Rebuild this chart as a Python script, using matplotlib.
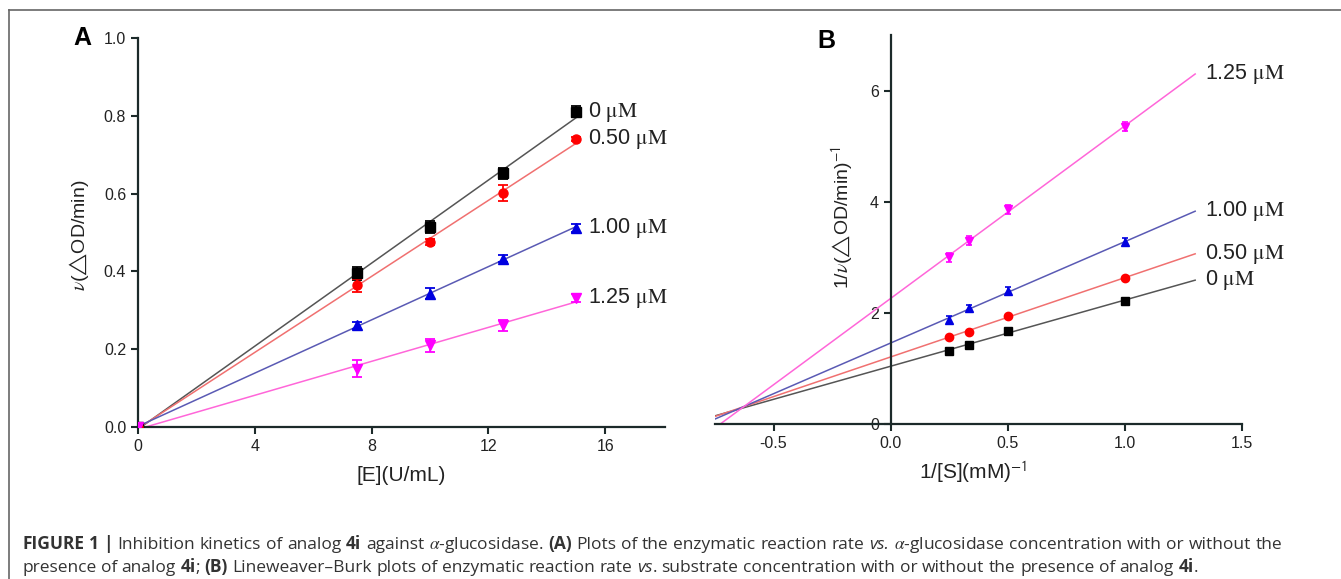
import re
import matplotlib
matplotlib.use("Agg")
import matplotlib.pyplot as plt
from matplotlib.lines import Line2D
import numpy as np

plt.rcParams['font.family'] = ['Liberation Sans', 'DejaVu Sans']
plt.rcParams['mathtext.fontset'] = 'stix'

# panel A: rate vs enzyme concentration
enzyme = [0, 7.5, 10, 12.5, 15]
rate_0 = [0, 0.395, 0.515, 0.652, 0.811]
rate_050 = [0, 0.364, 0.475, 0.601, 0.740]
rate_100 = [0, 0.261, 0.343, 0.433, 0.511]
rate_125 = [0, 0.150, 0.210, 0.261, 0.332]
err_0 = [0, 0.016, 0.015, 0.015, 0.015]
err_050 = [0, 0.016, 0.008, 0.020, 0.006]
err_100 = [0, 0.008, 0.015, 0.010, 0.010]
err_125 = [0, 0.022, 0.016, 0.015, 0.010]

# panel B: Lineweaver-Burk
inv_s = [0.25, 0.333, 0.5, 1.0]
inv_v_0 = [1.32, 1.43, 1.67, 2.22]
inv_v_050 = [1.57, 1.66, 1.94, 2.63]
inv_v_100 = [1.88, 2.08, 2.40, 3.27]
inv_v_125 = [3.00, 3.30, 3.86, 5.35]
inv_err_0 = [0.03, 0.03, 0.03, 0.03]
inv_err_050 = [0.03, 0.03, 0.03, 0.03]
inv_err_100 = [0.07, 0.07, 0.07, 0.07]
inv_err_125 = [0.08, 0.08, 0.08, 0.08]

labels = ['0', '0.50', '1.00', '1.25']
marker_colors = ['#000000', '#ff0000', '#0000e0', '#ff00ff']
line_colors = ['#555555', '#f07070', '#5a5ab4', '#ff66d9']
markers = ['s', 'o', '^', 'v']

fig = plt.figure(figsize=(13.41, 5.79), dpi=100)
axA = fig.add_axes([138/1341, 1-427/579, 527/1341, 389/579])
axB = fig.add_axes([715/1341, 1-424/579, 527/1341, 389/579])

txt_col = '#222222'
spine_col = '#1c2a2a'
for ax in (axA, axB):
    for s in ('top', 'right'):
        ax.spines[s].set_visible(False)
    for s in ('left', 'bottom'):
        ax.spines[s].set_linewidth(1.6)
        ax.spines[s].set_color(spine_col)
    ax.tick_params(direction='out', length=5, width=1.5, color=spine_col,
                   labelsize=11.5, labelcolor=txt_col)

tri = '$\\mathrm{\u25b3}$'

# ---- A
rates = [rate_0, rate_050, rate_100, rate_125]
errs = [err_0, err_050, err_100, err_125]
xfit = np.linspace(0, 15, 50)
for r, e, lab, mc, lc, m in zip(rates, errs, labels, marker_colors, line_colors, markers):
    k, b = np.polyfit(enzyme, r, 1)
    axA.plot(xfit, k*xfit + b, color=lc, lw=1.1, zorder=2)
    axA.errorbar(enzyme, r, yerr=e, fmt=m, color=mc, ms=6.5, capsize=3.5,
                 elinewidth=1.3, capthick=1.3, zorder=3)
    axA.text(15.42, r[-1], lab + r' $\mathrm{\mu M}$', fontsize=15.5,
             va='center', ha='left', color=txt_col)

axA.set_xlim(0, 18.05)
axA.set_ylim(0, 1.0)
axA.set_xticks([0, 4, 8, 12, 16])
axA.set_yticks([0, 0.2, 0.4, 0.6, 0.8, 1.0])
axA.set_yticklabels(['0.0', '0.2', '0.4', '0.6', '0.8', '1.0'])
axA.set_xlabel('[E](U/mL)', fontsize=15, color=txt_col)
axA.xaxis.set_label_coords(0.5, -0.1)
axA.set_ylabel(r'$\nu$(' + tri + 'OD/min)', fontsize=14, color=txt_col)
axA.yaxis.set_label_coords(-0.09, 0.494)

# ---- B
inv_vs = [inv_v_0, inv_v_050, inv_v_100, inv_v_125]
inv_errs = [inv_err_0, inv_err_050, inv_err_100, inv_err_125]
xfitB = np.linspace(-0.75, 1.3, 50)
for r, e, lab, mc, lc, m in zip(inv_vs, inv_errs, labels, marker_colors, line_colors, markers):
    k, b = np.polyfit(inv_s, r, 1)
    axB.plot(xfitB, k*xfitB + b, color=lc, lw=1.1, zorder=2)
    axB.errorbar(inv_s, r, yerr=e, fmt=m, color=mc, ms=6, capsize=2.5,
                 elinewidth=1.2, capthick=1.2, zorder=3)
    axB.text(1.34, k*1.3 + b, lab + r' $\mathrm{\mu M}$', fontsize=15.5,
             va='center', ha='left', color=txt_col)

axB.set_xlim(-0.75, 1.5)
axB.set_ylim(0, 7)
axB.spines['left'].set_position(('data', 0))
axB.set_xticks([-0.5, 0.0, 0.5, 1.0, 1.5])
axB.set_xticklabels(['-0.5', '0.0', '0.5', '1.0', '1.5'])
axB.set_yticks([0, 2, 4, 6])
axB.set_xlabel(r'1/[S](mM)$^{\mathsf{-1}}$', fontsize=15, color=txt_col)
axB.xaxis.set_label_coords(0.49, -0.09)
axB.set_ylabel(r'1/$\nu$(' + tri + r'OD/min)$^{\mathsf{-1}}$', fontsize=14, color=txt_col)
axB.yaxis.set_label_coords(0.268, 0.53)

fig.text(82/1341, 1-38/579, 'A', fontsize=18, fontweight='bold', ha='center', va='center')
fig.text(826/1341, 1-41/579, 'B', fontsize=18, fontweight='bold', ha='center', va='center')

# frame lines
fig.add_artist(Line2D([9/1341, 1.0], [1-10/579, 1-10/579], color='#666666', lw=1.2))
fig.add_artist(Line2D([9/1341, 9/1341], [0, 1-10/579], color='#666666', lw=1.2))

# caption, placed word by word so line 1 can be justified
renderer = fig.canvas.get_renderer()
cap_font = ['Open Sans', 'DejaVu Sans']


def caption_line(x0, y, parts, size, right=None):
    items = []
    for s, w, st in parts:
        for chunk in re.split(r'( )', s):
            if chunk:
                items.append((chunk, w, st))
    placed = []
    for s, w, st in items:
        if s == ' ':
            placed.append(None)
            continue
        t = fig.text(0, y, s, fontsize=size, fontweight=w, style=st, family=cap_font,
                     va='baseline', ha='left', color='#333333')
        placed.append(t)
    probe = fig.text(0, 0, 'a a', fontsize=size, family=cap_font)
    probe2 = fig.text(0, 0, 'aa', fontsize=size, family=cap_font)
    sp = probe.get_window_extent(renderer).width - probe2.get_window_extent(renderer).width
    probe.remove()
    probe2.remove()
    widths = [sp if t is None else t.get_window_extent(renderer).width for t in placed]
    W = fig.bbox.width
    extra = 0
    if right is not None:
        nsp = placed.count(None)
        extra = max(0, (right * W - x0 * W - sum(widths)) / nsp)
    x = x0 * W
    for t, wd in zip(placed, widths):
        if t is None:
            x += wd + extra
        else:
            t.set_x(x / W)
            x += wd


line1 = [('FIGURE 1', 'bold', 'normal'), (' | ', 'bold', 'normal'),
         ('Inhibition kinetics of analog ', 'normal', 'normal'), ('4i', 'bold', 'normal'),
         (' against ', 'normal', 'normal'), (r'$\alpha$-glucosidase.', 'normal', 'normal'),
         (' ', 'normal', 'normal'), ('(A)', 'bold', 'normal'),
         (' Plots of the enzymatic reaction rate ', 'normal', 'normal'),
         ('vs.', 'normal', 'italic'), (' ', 'normal', 'normal'),
         (r'$\alpha$-glucosidase', 'normal', 'normal'),
         (' concentration with or without the', 'normal', 'normal')]
line2 = [('presence of analog ', 'normal', 'normal'), ('4i', 'bold', 'normal'),
         (';', 'normal', 'normal'), (' ', 'normal', 'normal'), ('(B)', 'bold', 'normal'),
         (' Lineweaver\u2013Burk plots of enzymatic reaction rate ', 'normal', 'normal'),
         ('vs', 'normal', 'italic'),
         ('. substrate concentration with or without the presence of analog ', 'normal', 'normal'),
         ('4i', 'bold', 'normal'), ('.', 'normal', 'normal')]
caption_line(22/1341, 1-549/579, line1, 12.5, right=1282/1341)
caption_line(22/1341, 1-572/579, line2, 12.5)

fig.savefig('out.png', dpi=100)
